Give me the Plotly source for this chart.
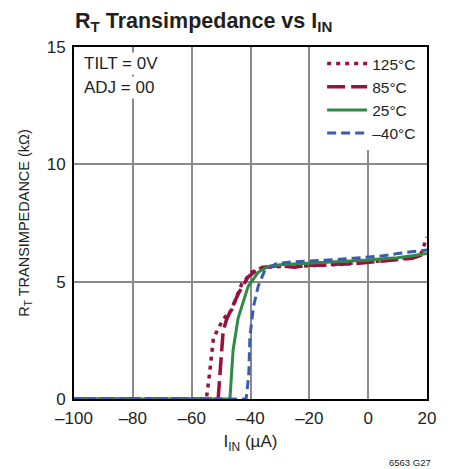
import plotly.graph_objects as go

# ---- data ----
x_125 = [-100, -55, -54, -52.6, -49.3, -46.4, -43, -39.6, -37, -35, -30, -25, -20, -15, -10, -5, 0, 5, 10, 15, 18, 20]
y_125 = [0, 0, 1.0, 2.6, 3.4, 3.8, 4.9, 5.4, 5.55, 5.6, 5.65, 5.7, 5.66, 5.74, 5.72, 5.8, 5.84, 5.9, 5.95, 6.05, 6.2, 6.9]

x_85 = [-100, -51, -49.3, -48.1, -44.1, -40.8, -36.8, -35, -30, -25, -20, -15, -10, -5, 0, 5, 10, 15, 20]
y_85 = [0, 0, 2.9, 3.4, 4.5, 5.2, 5.6, 5.62, 5.68, 5.62, 5.7, 5.7, 5.75, 5.76, 5.82, 5.86, 5.92, 6.0, 6.2]

x_25 = [-100, -47, -45.9, -44.2, -40.8, -37.4, -34, -30, -25, -20, -15, -10, -5, 0, 5, 10, 15, 20]
y_25 = [0, 0, 2.1, 3.45, 4.8, 5.4, 5.65, 5.72, 5.75, 5.78, 5.8, 5.85, 5.88, 5.92, 5.98, 6.02, 6.1, 6.2]

x_m40 = [-100, -41.5, -40.6, -40.2, -39, -37.4, -35.1, -31.1, -25, -20, -15, -10, -5, 0, 5, 10, 15, 20]
y_m40 = [0, 0, 1.0, 2.65, 3.93, 4.8, 5.5, 5.78, 5.85, 5.88, 5.9, 5.95, 6.0, 6.05, 6.1, 6.2, 6.28, 6.35]

series_names = ["125°C", "85°C", "25°C", "–40°C"]
x_ticks = [-100, -80, -60, -40, -20, 0, 20]
x_tick_labels = ["–100", "–80", "–60", "–40", "–20", "0", "20"]
y_ticks = [0, 5, 10, 15]

FONT = "Liberation Sans Narrow, Arial Narrow, Liberation Sans, Arial, sans-serif"
TXT = "#231f20"
RED = "#990f3d"
GREEN = "#2e8b45"
BLUE = "#3a5bb0"

fig = go.Figure()
fig.add_trace(go.Scatter(x=x_125, y=y_125, mode="lines", name=series_names[0],
                         line=dict(color=RED, width=3.5, dash="4px,5px")))
fig.add_trace(go.Scatter(x=x_85, y=y_85, mode="lines", name=series_names[1],
                         line=dict(color=RED, width=3.5, dash="18px,6px")))
fig.add_trace(go.Scatter(x=x_25, y=y_25, mode="lines", name=series_names[2],
                         line=dict(color=GREEN, width=3)))
fig.add_trace(go.Scatter(x=x_m40, y=y_m40, mode="lines", name=series_names[3],
                         line=dict(color=BLUE, width=3, dash="9px,5px")))

W, H = 445, 461
fig.update_layout(
    width=W, height=H,
    margin=dict(l=66, r=26, t=39, b=70),
    paper_bgcolor="white", plot_bgcolor="white",
    font=dict(family=FONT, size=16, color=TXT),
    title=dict(text="<b>R<sub>T</sub> Transimpedance vs I<sub>IN</sub></b>",
               x=67/W, xanchor="left", y=1 - 12/H, yanchor="middle",
               font=dict(family=FONT, size=21.5, color=TXT)),
    showlegend=True,
    legend=dict(x=0.703, xanchor="left", y=1.0, yanchor="top",
                bgcolor="white", borderwidth=0,
                font=dict(family=FONT, size=15.5, color=TXT), tracegroupgap=0,
                itemwidth=40),
    xaxis=dict(range=[-100, 20], tickvals=x_ticks, ticktext=x_tick_labels,
               showgrid=True, gridcolor="#8a8a8a", gridwidth=1.5,
               showline=True, linecolor="black", linewidth=2, mirror=True,
               ticks="", zeroline=False, tickfont=dict(size=17), automargin=False,
               ticklabelstandoff=3,
               title=dict(text="I<sub>IN</sub> (µA)", font=dict(size=17), standoff=8)),
    yaxis=dict(range=[0, 15], tickvals=y_ticks,
               showgrid=True, gridcolor="#8a8a8a", gridwidth=1.5,
               showline=True, linecolor="black", linewidth=2, mirror=True,
               ticks="", zeroline=False, tickfont=dict(size=17), automargin=False,
               ticklabelstandoff=3,
               title=dict(text="R<sub>T</sub> TRANSIMPEDANCE (kΩ)", font=dict(size=14.5), standoff=14)),
)

fig.add_annotation(x=0.022, y=0.9545, xref="paper", yref="paper", xanchor="left", yanchor="middle",
                   text="TILT = 0V", showarrow=False, align="left",
                   bgcolor="white", font=dict(family=FONT, size=17, color=TXT))
fig.add_annotation(x=0.022, y=0.886, xref="paper", yref="paper", xanchor="left", yanchor="middle",
                   text="ADJ = 00", showarrow=False, align="left",
                   bgcolor="white", font=dict(family=FONT, size=17, color=TXT))
fig.add_annotation(x=0.952, y=-0.179, xref="paper", yref="paper",
                   xanchor="center", yanchor="middle", text="6563 G27", showarrow=False,
                   font=dict(family=FONT, size=9.5, color=TXT))

fig.write_html("out.html")
